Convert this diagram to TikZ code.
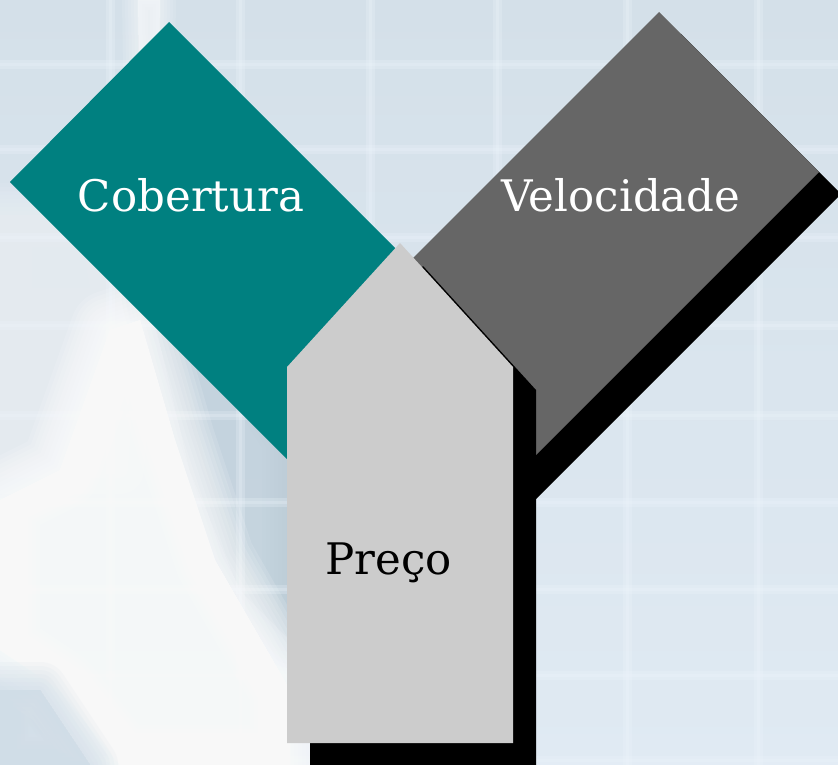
\documentclass[tikz,border=0pt]{standalone}
\usepackage{fontspec}
\setmainfont{DejaVu Serif}
\definecolor{bgtop}{RGB}{212,224,233}
\definecolor{bgbot}{RGB}{224,234,243}
\definecolor{gridc}{RGB}{238,245,252}
\definecolor{bandc}{RGB}{188,205,216}
\definecolor{palec}{RGB}{236,242,247}
\definecolor{cornc}{RGB}{208,221,231}
\definecolor{tealc}{RGB}{0,128,128}
\definecolor{darkg}{RGB}{102,102,102}
\definecolor{lightg}{RGB}{204,204,204}
\tikzset{
  shadowfill/.style={fill=black},
  label/.style={font=\fontsize{43.5}{52}\selectfont, anchor=base, inner sep=0pt},
  gridline/.style={draw=gridc, line width=#1, opacity=0.25},
  soft/.style={fill=#1, draw=#1, line join=round},
}
\begin{document}
\begin{tikzpicture}[x=1pt,y=-1pt]
\useasboundingbox (0,0) rectangle (838,765);
% background
\shade[top color=bgtop, bottom color=bgbot] (0,0) rectangle (838,765);
% pale left area
\foreach \w in {64,56,...,0} {
  \fill[soft=palec, opacity=0.12, line width=\w]
    (0,215) -- (110,215) -- (130,330) -- (120,470) -- (0,470) -- cycle;
}
% darker band right of the swoosh
\foreach \w in {56,48,...,0} {
  \fill[soft=bandc, opacity=0.12, line width=\w]
    (150,300) -- (200,300) -- (290,440) -- (290,640) -- (240,590) -- (190,470) -- cycle;
}
% grid
\foreach \gx in {110,240,370,497,627,758} {
  \draw[gridline=9pt] (\gx,0) -- (\gx,765);
  \draw[gridline=3pt] (\gx,0) -- (\gx,765);
}
\foreach \gy in {65,150,237,325,415,502,589,675,760} {
  \draw[gridline=9pt] (0,\gy) -- (838,\gy);
  \draw[gridline=3pt] (0,\gy) -- (838,\gy);
}
% top white streak
\foreach \w in {32,26,...,2} {
  \fill[soft=white, opacity=0.1, line width=\w]
    (138,0) -- (160,0) -- (158,140) -- (140,140) -- cycle;
}
% white swoosh lower left
\foreach \w in {80,72,...,0} {
  \fill[soft=white, opacity=0.13, line width=\w]
    (110,330) -- (140,320) -- (175,440) -- (215,560) -- (290,690) -- (290,765)
    -- (120,765) -- (60,690) -- (0,650) -- (0,500) -- (60,470) -- cycle;
}
% bluish bottom-left corner
\foreach \w in {56,48,...,0} {
  \fill[soft=cornc, opacity=0.12, line width=\w]
    (0,690) -- (40,690) -- (90,765) -- (0,765) -- cycle;
}
% Velocidade block (dark grey) with shadow
\fill[shadowfill] (681,34) -- (841,194) -- (526,509) -- (366,349) -- cycle;
\fill[darkg] (659,12) -- (819,172) -- (504,487) -- (344,327) -- cycle;
% Cobertura block (teal)
\fill[tealc] (169,22) -- (454,307) -- (295,467) -- (10,182) -- cycle;
% Preco block (light grey) with shadow
\fill[shadowfill] (423,266) -- (536,390) -- (536,766) -- (310,766) -- (310,390) -- cycle;
\fill[lightg] (400,243) -- (513,367) -- (513,743) -- (287,743) -- (287,367) -- cycle;
% labels
\node[label, text=white] (cob) at (191,211) {Cobertura};
\node[label, text=white] (vel) at (621,211) {Velocidade};
\node[label, text=black] (pre) at (388.5,574) {Preço};
\end{tikzpicture}
\end{document}
